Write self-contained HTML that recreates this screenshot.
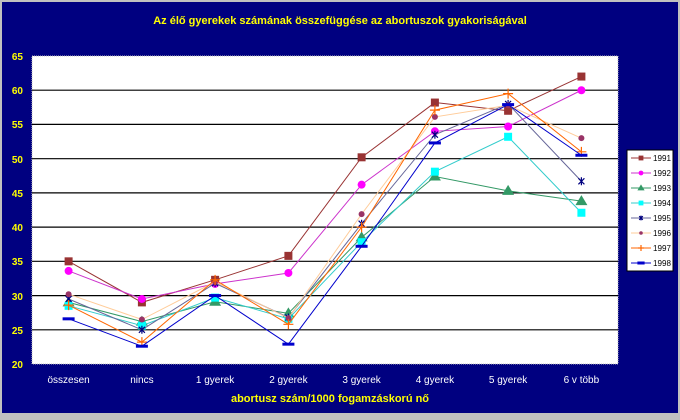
<!DOCTYPE html>
<html><head><meta charset="utf-8"><style>
html,body{margin:0;padding:0;background:#c0c0c0;}
svg{display:block;font-family:"Liberation Sans",Arial,sans-serif;}
</style></head><body>
<svg width="680" height="420" viewBox="0 0 680 420" xmlns="http://www.w3.org/2000/svg">
<rect x="0" y="0" width="680" height="420" fill="#c0c0c0"/>
<rect x="2" y="2" width="676" height="411" fill="#000080"/>
<text x="340" y="24" fill="#ffff00" font-size="11" font-weight="bold" text-anchor="middle">Az élő gyerekek számának összefüggése az abortuszok gyakoriságával</text>
<rect x="32" y="56" width="586" height="308" fill="#ffffff" stroke="#c0c0c0" stroke-width="1" stroke-dasharray="1,1"/>
<g stroke="#000" stroke-width="1.2">
<line x1="32" y1="90.2" x2="618" y2="90.2"/><line x1="32" y1="124.4" x2="618" y2="124.4"/>
<line x1="32" y1="158.7" x2="618" y2="158.7"/><line x1="32" y1="192.9" x2="618" y2="192.9"/>
<line x1="32" y1="227.1" x2="618" y2="227.1"/><line x1="32" y1="261.3" x2="618" y2="261.3"/>
<line x1="32" y1="295.6" x2="618" y2="295.6"/><line x1="32" y1="329.8" x2="618" y2="329.8"/>
</g>
<g fill="#ffff00" font-size="10" font-weight="bold" text-anchor="end">
<text x="23" y="60">65</text><text x="23" y="94">60</text><text x="23" y="128">55</text><text x="23" y="163">50</text><text x="23" y="197">45</text><text x="23" y="231">40</text><text x="23" y="265">35</text><text x="23" y="300">30</text><text x="23" y="334">25</text><text x="23" y="368">20</text>
</g>
<g fill="#ffffff" font-size="10" text-anchor="middle">
<text x="68.6" y="383">összesen</text><text x="141.9" y="383">nincs</text><text x="215.1" y="383">1 gyerek</text><text x="288.4" y="383">2 gyerek</text><text x="361.6" y="383">3 gyerek</text><text x="434.9" y="383">4 gyerek</text><text x="508.1" y="383">5 gyerek</text><text x="581.4" y="383">6 v több</text>
</g>
<text x="330" y="402" fill="#ffff00" font-size="11" font-weight="bold" text-anchor="middle">abortusz szám/1000 fogamzáskorú nő</text>
<g id="series" fill="none" stroke-width="1"></g>
<rect x="627" y="150" width="46" height="121" fill="#fff" stroke="#000" stroke-width="1"/>
<g id="legend" font-size="8" fill="#000"></g>
</svg>
<script>
var xs=[68.6,141.9,215.1,288.4,361.6,434.9,508.1,581.4];
function Y(v){return 364-(v-20)*6.844;}
var S=[
["1991","#993333","sq","#993333",[35,29,32.3,35.8,50.2,58.2,57,62]],
["1992","#cc33cc","dot","#ff00ff",[33.6,29.5,31.7,33.3,46.2,54,54.7,60]],
["1993","#339966","tri","#339966",[29,26.2,29.1,27.4,38.5,47.4,45.3,43.8]],
["1994","#33cccc","sq","#00ffff",[28.5,25.6,29.7,26.6,37.8,48.1,53.2,42.1]],
["1995","#666699","star","#000080",[29.5,25,31.8,26.8,40.5,53.5,58,46.7]],
["1996","#ffcc99","dia","#993366",[30.2,26.5,32,26.7,41.9,56.1,57.8,53]],
["1997","#ff6600","plus","#ff6600",[28.6,23.2,32.3,25.8,40,57.1,59.5,51]],
["1998","#0000cc","dash","#0000cc",[26.6,22.6,30,22.9,37.2,52.3,57.9,50.5]]];
var NS="http://www.w3.org/2000/svg";
function el(n,a,p){var e=document.createElementNS(NS,n);for(var k in a)e.setAttribute(k,a[k]);p.appendChild(e);return e;}
function mk(t,c,x,y,p,s){s=s||1;
 if(t=="sq")el("rect",{x:x-4*s,y:y-4*s,width:8*s,height:8*s,fill:c},p);
 if(t=="dot")el("circle",{cx:x,cy:y,r:4*s,fill:c},p);
 if(t=="tri")el("polygon",{points:(x)+","+(y-6*s)+" "+(x-6*s)+","+(y+4*s)+" "+(x+6*s)+","+(y+4*s),fill:c},p);
 if(t=="dia")el("circle",{cx:x,cy:y,r:3*s,fill:c},p);
 if(t=="star")el("path",{d:"M"+(x-3*s)+" "+(y-3*s)+"L"+(x+3*s)+" "+(y+3*s)+"M"+(x+3*s)+" "+(y-3*s)+"L"+(x-3*s)+" "+(y+3*s)+"M"+x+" "+(y-4*s)+"L"+x+" "+(y+4*s),stroke:c,"stroke-width":1.2},p);
 if(t=="plus")el("path",{d:"M"+(x-5*s)+" "+y+"L"+(x+5*s)+" "+y+"M"+x+" "+(y-5*s)+"L"+x+" "+(y+5*s),stroke:c,"stroke-width":1.2},p);
 if(t=="dash")el("rect",{x:x-6*s,y:y-1.5,width:12*s,height:3,fill:c},p);
}
var g=document.getElementById("series"),lg=document.getElementById("legend");
S.forEach(function(s,i){
 el("polyline",{points:s[4].map(function(v,j){return xs[j]+","+Y(v)}).join(" "),stroke:s[1],fill:"none"},g);
 s[4].forEach(function(v,j){mk(s[2],s[3],xs[j],Y(v),g);});
 var ly=158+i*15;
 el("line",{x1:631,y1:ly,x2:651,y2:ly,stroke:s[1]},lg);
 mk(s[2],s[3],641,ly,lg,0.6);
 var t=el("text",{x:653,y:ly+3,"textLength":18,"lengthAdjust":"spacingAndGlyphs"},lg);t.textContent=s[0];
});
</script>
</body></html>
